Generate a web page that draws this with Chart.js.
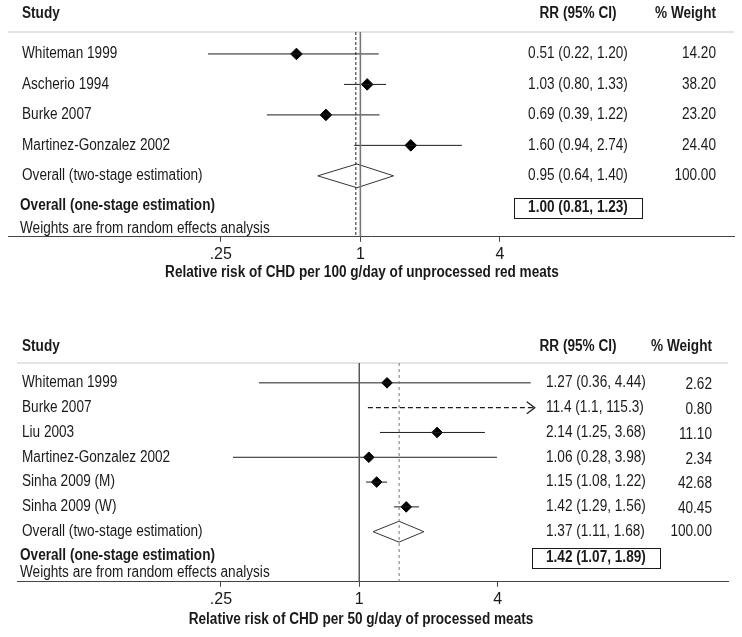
<!DOCTYPE html>
<html>
<head>
<meta charset="utf-8">
<script src="https://cdn.jsdelivr.net/npm/chart.js@4.4.0/dist/chart.umd.min.js"></script>
<style>
  body { margin: 0; background: #fff; }
  #wrap { position: relative; width: 742px; height: 637px; }
  .panel { position: absolute; left: 0; width: 742px; }
</style>
</head>
<body>
<div id="wrap">
  <div class="panel" style="top:0;height:300px"><canvas id="c1"></canvas></div>
  <div class="panel" style="top:300px;height:337px"><canvas id="c2"></canvas></div>
</div>
<script>
// ---------- DATA ----------
const tickValues = [0.25, 1, 4];
const tickLabels = [".25", "1", "4"];
const headers = ["Study", "RR (95% CI)", "% Weight"];
const pooledLabel = "Overall (two-stage estimation)";
const oneStageLabel = "Overall (one-stage estimation)";
const noteLabel = "Weights are from random effects analysis";

// Panel A: unprocessed red meats
const redStudies = ["Whiteman 1999", "Ascherio 1994", "Burke 2007", "Martinez-Gonzalez 2002"];
const redEstimate = [0.53, 1.07, 0.71, 1.65];
const redLower = [0.22, 0.85, 0.395, 0.94];
const redUpper = [1.20, 1.29, 1.21, 2.74];
const redArrow = [false, false, false, false];
const redRRText = ["0.51 (0.22, 1.20)", "1.03 (0.80, 1.33)", "0.69 (0.39, 1.22)", "1.60 (0.94, 2.74)"];
const redWeightText = ["14.20", "38.20", "23.20", "24.40"];
const redPooled = [0.655, 0.966, 1.39];
const redRefLine = 0.956;
const redPooledText = "0.95 (0.64, 1.40)";
const redPooledWeight = "100.00";
const redOneStageText = "1.00 (0.81, 1.23)";
const redAxisTitle = "Relative risk of CHD per 100 g/day of unprocessed red meats";

// Panel B: processed meats
const procStudies = ["Whiteman 1999", "Burke 2007", "Liu 2003", "Martinez-Gonzalez 2002", "Sinha 2009 (M)", "Sinha 2009 (W)"];
const procEstimate = [1.32, null, 2.18, 1.10, 1.19, 1.60];
const procLower = [0.366, 1.09, 1.23, 0.282, 1.07, 1.415];
const procUpper = [5.57, 5.8, 3.52, 3.97, 1.32, 1.82];
const procArrow = [false, true, false, false, false, false];
const procRRText = ["1.27 (0.36, 4.44)", "11.4 (1.1, 115.3)", "2.14 (1.25, 3.68)", "1.06 (0.28, 3.98)", "1.15 (1.08, 1.22)", "1.42 (1.29, 1.56)"];
const procWeightText = ["2.62", "0.80", "11.10", "2.34", "42.68", "40.45"];
const procPooled = [1.147, 1.488, 1.91];
const procRefLine = 1.49;
const procPooledText = "1.37 (1.11, 1.68)";
const procPooledWeight = "100.00";
const procOneStageText = "1.42 (1.07, 1.89)";
const procAxisTitle = "Relative risk of CHD per 50 g/day of processed meats";

// ---------- LAYOUT / STYLE ----------
const FONT = '"Liberation Sans", Arial, sans-serif';
const TXT = '#1a1a1a';
const NARROW = 0.85;

const layoutA = {
  canvas: 'c1', pad: { left: 8, right: 8, top: 32, bottom: 33 },
  xMin: 0.0302, xMax: 40.9, yMin: -0.72, yMax: 6.0,
  headerRow: -1.34, pooledRow: 4, oneStageRow: 5.05, noteRow: 5.72,
  diamondHalf: 0.39, pointRadius: 5.8,
  labelX: 22, rrX: 578, rrAlign: 'center', rrHeadX: 578, weightX: 716, weightDy: 0,
  titleX: 362, titleY: 273,
  solidColor: '#777', solidWidth: 1.6, dashColor: '#222', dash: [3, 2]
};
const layoutB = {
  canvas: 'c2', pad: { left: 17, right: 14, top: 63, bottom: 25 },
  xMin: 0.0324, xMax: 40.2, yMin: -0.8, yMax: 8.02,
  headerRow: -1.45, pooledRow: 6, oneStageRow: 7.05, noteRow: 7.65,
  diamondHalf: 0.42, pointRadius: 5.3,
  labelX: 22, rrX: 546, rrAlign: 'left', rrHeadX: 578, weightX: 712, weightDy: 2,
  titleX: 361, titleY: 320,
  solidColor: '#555', solidWidth: 1, dashColor: '#777', dash: [3, 3]
};

const dataA = {
  studies: redStudies, estimate: redEstimate, lower: redLower, upper: redUpper, arrow: redArrow,
  rrText: redRRText, weightText: redWeightText, pooled: redPooled, refLine: redRefLine,
  pooledText: redPooledText, pooledWeight: redPooledWeight, oneStageText: redOneStageText, axisTitle: redAxisTitle
};
const dataB = {
  studies: procStudies, estimate: procEstimate, lower: procLower, upper: procUpper, arrow: procArrow,
  rrText: procRRText, weightText: procWeightText, pooled: procPooled, refLine: procRefLine,
  pooledText: procPooledText, pooledWeight: procPooledWeight, oneStageText: procOneStageText, axisTitle: procAxisTitle
};

function setFont(ctx, bold) {
  ctx.font = (bold ? 'bold ' : '') + '16px ' + FONT;
}
// condensed text: draw with a horizontal squeeze
function drawText(ctx, s, x, y, align, bold) {
  ctx.save();
  setFont(ctx, bold);
  ctx.textAlign = align;
  ctx.textBaseline = 'middle';
  ctx.fillStyle = TXT;
  ctx.translate(x, y);
  ctx.scale(NARROW, 1);
  ctx.fillText(s, 0, 0);
  ctx.restore();
}
function textWidth(ctx, s, bold) {
  ctx.save();
  setFont(ctx, bold);
  const w = ctx.measureText(s).width * NARROW;
  ctx.restore();
  return w;
}

function makePlugin(L, D) {
  return {
    id: 'forest_' + L.canvas,
    beforeDatasetsDraw(chart) {
      const ctx = chart.ctx, a = chart.chartArea;
      ctx.save();
      ctx.strokeStyle = '#e4e4e4';
      ctx.lineWidth = 2;
      ctx.beginPath();
      ctx.moveTo(a.left, a.top);
      ctx.lineTo(a.right, a.top);
      ctx.stroke();
      ctx.restore();
    },
    afterDatasetsDraw(chart) {
      const ctx = chart.ctx, ys = chart.scales.y;
      ctx.save();
      // arrowheads
      chart.data.datasets.forEach((ds, i) => {
        if (!ds.arrow) return;
        const pts = chart.getDatasetMeta(i).data;
        const p = pts[pts.length - 1];
        ctx.strokeStyle = '#1e1e1e';
        ctx.lineWidth = 1.3;
        ctx.setLineDash([]);
        ctx.beginPath();
        ctx.moveTo(p.x - 8, p.y - 6);
        ctx.lineTo(p.x, p.y);
        ctx.lineTo(p.x - 8, p.y + 6);
        ctx.stroke();
      });
      // headers
      const hy = ys.getPixelForValue(L.headerRow);
      drawText(ctx, headers[0], L.labelX, hy, 'left', true);
      drawText(ctx, headers[1], L.rrHeadX, hy, 'center', true);
      drawText(ctx, headers[2], L.weightX, hy, 'right', true);
      // study rows
      D.studies.forEach((s, i) => {
        const y = ys.getPixelForValue(i);
        drawText(ctx, s, L.labelX, y, 'left', false);
        drawText(ctx, D.rrText[i], L.rrX, y, L.rrAlign, false);
        drawText(ctx, D.weightText[i], L.weightX, y + L.weightDy, 'right', false);
      });
      // pooled row
      const py = ys.getPixelForValue(L.pooledRow);
      drawText(ctx, pooledLabel, L.labelX, py, 'left', false);
      drawText(ctx, D.pooledText, L.rrX, py, L.rrAlign, false);
      drawText(ctx, D.pooledWeight, L.weightX, py, 'right', false);
      // one-stage row with box
      const oy = ys.getPixelForValue(L.oneStageRow);
      drawText(ctx, oneStageLabel, L.labelX - 2, oy - 2, 'left', true);
      const w = textWidth(ctx, D.oneStageText, true);
      const left = L.rrAlign === 'center' ? L.rrX - w / 2 : L.rrX;
      drawText(ctx, D.oneStageText, left, oy, 'left', true);
      ctx.strokeStyle = '#1a1a1a';
      ctx.lineWidth = 1;
      ctx.strokeRect(Math.round(left - 14) + 0.5, Math.round(oy - 10) + 0.5, Math.round(w + 28), 20);
      // note
      drawText(ctx, noteLabel, L.labelX - 2, ys.getPixelForValue(L.noteRow), 'left', false);
      // axis title
      drawText(ctx, D.axisTitle, L.titleX, L.titleY, 'center', true);
      ctx.restore();
    }
  };
}

function buildPanel(L, D) {
  const datasets = [];
  const base = { showLine: true, pointRadius: 0, pointHoverRadius: 0, fill: false, tension: 0 };
  datasets.push(Object.assign({}, base, {
    data: [{ x: 1, y: L.yMin }, { x: 1, y: L.yMax }],
    borderColor: L.solidColor, borderWidth: L.solidWidth
  }));
  datasets.push(Object.assign({}, base, {
    data: [{ x: D.refLine, y: L.yMin }, { x: D.refLine, y: L.yMax }],
    borderColor: L.dashColor, borderWidth: 1, borderDash: L.dash
  }));
  D.studies.forEach((s, i) => {
    datasets.push(Object.assign({}, base, {
      data: [{ x: D.lower[i], y: i }, { x: D.upper[i], y: i }],
      borderColor: '#1e1e1e',
      borderWidth: D.arrow[i] ? 1.4 : 1,
      borderDash: D.arrow[i] ? [5, 3] : [],
      arrow: D.arrow[i]
    }));
  });
  const r = L.pooledRow, h = L.diamondHalf;
  datasets.push(Object.assign({}, base, {
    data: [
      { x: D.pooled[0], y: r }, { x: D.pooled[1], y: r - h }, { x: D.pooled[2], y: r },
      { x: D.pooled[1], y: r + h }, { x: D.pooled[0], y: r }
    ],
    borderColor: '#333', borderWidth: 1
  }));
  datasets.push({
    showLine: false,
    data: D.estimate.map((v, i) => (v == null ? null : { x: v, y: i })).filter(Boolean),
    pointStyle: 'rectRot', pointRadius: L.pointRadius, pointHoverRadius: L.pointRadius,
    backgroundColor: '#000', borderColor: '#000', borderWidth: 1
  });

  return new Chart(document.getElementById(L.canvas), {
    type: 'scatter',
    data: { datasets },
    options: {
      responsive: true, maintainAspectRatio: false, animation: false,
      events: [],
      layout: { padding: L.pad },
      plugins: { legend: { display: false }, tooltip: { enabled: false } },
      scales: {
        x: {
          type: 'logarithmic', position: 'bottom', min: L.xMin, max: L.xMax,
          afterBuildTicks: (s) => { s.ticks = tickValues.map(v => ({ value: v })); },
          ticks: {
            autoSkip: false, maxRotation: 0, padding: 3, color: TXT,
            font: { family: FONT, size: 16 },
            callback: (v, i) => tickLabels[i]
          },
          grid: { display: true, drawOnChartArea: false, drawTicks: true, tickLength: 5, color: '#444' },
          border: { display: true, color: '#444', width: 1 }
        },
        y: { type: 'linear', display: false, min: L.yMin, max: L.yMax, reverse: true }
      }
    },
    plugins: [makePlugin(L, D)]
  });
}

buildPanel(layoutA, dataA);
buildPanel(layoutB, dataB);
</script>
</body>
</html>
